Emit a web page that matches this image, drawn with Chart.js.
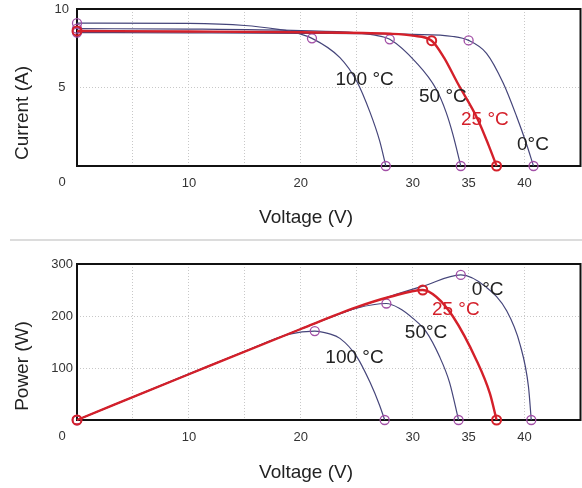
<!DOCTYPE html>
<html lang="en">
<head>
  <meta charset="UTF-8">
  <title>Module I-V / P-V curves vs temperature</title>
  <script src="https://cdn.jsdelivr.net/npm/chart.js"></script>
  <style>
    html, body {
      margin: 0;
      padding: 0;
      background: #fff;
      overflow: hidden;
      font-family: 'Liberation Sans', Arial, sans-serif;
    }
    .panel {
      position: absolute;
      left: 0;
      width: 587px; /* chart.js keeps ~6px on the right, so the frame ends near 580 */
    }
    #top { top: 0; height: 239px; }
    #bottom { top: 241px; height: 247px; }
    #sep {
      position: absolute;
      left: 10px;
      top: 239px;
      width: 572px;
      height: 2px;
      background: #dcdcdc;
    }
  </style>
</head>
<body>
  <div class="panel" id="top"><canvas id="chartIV"></canvas></div>
  <div id="sep"></div>
  <div class="panel" id="bottom"><canvas id="chartPV"></canvas></div>
  <script>
    // tick labels
    const xTickLabels = [10, 20, 30, 35, 40];
    const ivTickLabels = [5, 10];
    const pvTickLabels = [100, 200, 300];

    // current vs voltage, one pair of arrays per temperature
    const iv0V = [0, 10, 20, 30, 33.6, 35.0, 36.6, 38.1, 39.3, 40.15, 40.8];
    const iv0I = [8.5, 8.48, 8.45, 8.38, 8.25, 8.0, 7.18, 5.27, 3.14, 1.45, 0];
    const iv25V = [0, 10, 20, 28, 30, 31.7, 32.8, 34.0, 35.8, 36.8, 37.5];
    const iv25I = [8.6, 8.57, 8.52, 8.42, 8.3, 7.98, 6.9, 5.3, 3.0, 1.3, 0];
    const iv50V = [0, 10, 20, 25, 26.5, 27.95, 30.3, 32.1, 33.0, 33.6, 34.3];
    const iv50I = [8.75, 8.72, 8.62, 8.48, 8.35, 8.07, 6.6, 4.9, 3.4, 2.0, 0];
    const iv100V = [0, 10, 15, 18, 19, 21.0, 23.5, 25.0, 26.2, 27.05, 27.6];
    const iv100I = [9.1, 9.08, 8.95, 8.7, 8.58, 8.13, 6.9, 5.4, 3.4, 1.6, 0];

    // power vs voltage
    const pv0V = [0, 10, 20, 25, 28, 31, 34.3, 36.6, 38.4, 39.6, 40.35, 40.6];
    const pv0P = [0, 88, 175, 216, 238, 258, 279, 255, 210, 145, 64, 0];
    const pv25V = [0, 10, 20, 25, 28, 30.9, 32.1, 33.6, 35.7, 36.9, 37.5];
    const pv25P = [0, 88, 175, 217, 237, 250, 237, 199, 115, 51, 0];
    const pv50V = [0, 10, 20, 25, 27.65, 28.8, 30.0, 31.2, 32.4, 33.3, 34.1];
    const pv50P = [0, 88, 175, 215, 224, 215, 196, 170, 122, 72, 0];
    const pv100V = [0, 10, 15, 19, 21.25, 22.5, 23.5, 25.0, 26.2, 27.05, 27.5];
    const pv100P = [0, 89, 132, 165, 171, 166, 157, 122, 72, 28, 0];

    const DARK = '#45457a';
    const PURPLE = '#a24fa6';
    const RED = '#d4202a';
    const FONT = "'Liberation Sans', Arial, sans-serif";

    // builds line + marker datasets (start, max power point, end)
    function buildSets(curves, powerOf) {
      const sets = [];
      curves.forEach(c => {
        const pts = c.v.map((v, k) => ({ x: v, y: c.y[k] }));
        let best = 0;
        pts.forEach((p, k) => { if (powerOf(p) > powerOf(pts[best])) best = k; });
        sets.push({
          data: pts,
          showLine: true,
          borderColor: c.red ? RED : DARK,
          borderWidth: c.red ? 2.4 : 1.2,
          pointRadius: 0,
          cubicInterpolationMode: 'monotone',
          order: c.red ? 1 : 3,
          clip: false
        });
        sets.push({
          data: [pts[0], pts[best], pts[pts.length - 1]],
          showLine: false,
          pointRadius: 4.5,
          pointBorderWidth: c.red ? 2 : 1.3,
          pointBorderColor: c.red ? RED : PURPLE,
          pointBackgroundColor: 'rgba(0,0,0,0)',
          order: c.red ? 0 : 2,
          clip: false
        });
      });
      return sets;
    }

    function overlay(o) {
      return {
        id: 'overlay',
        beforeDatasetsDraw(chart) {
          const { ctx, chartArea: a } = chart;
          ctx.save();
          ctx.strokeStyle = '#111';
          ctx.lineWidth = 2;
          ctx.strokeRect(a.left, a.top, a.right - a.left, a.bottom - a.top);
          ctx.restore();
        },
        afterDraw(chart) {
          const { ctx, chartArea: a, scales } = chart;
          ctx.save();
          ctx.textAlign = 'center';
          ctx.textBaseline = 'middle';
          ctx.font = '13px ' + FONT;
          ctx.fillStyle = '#333';
          ctx.fillText('0', 62, a.bottom + 16);
          ctx.font = '19px ' + FONT;
          ctx.fillStyle = '#222';
          ctx.fillText(o.xTitle, 306, o.xTitleY);
          ctx.save();
          ctx.translate(23, o.yTitleY);
          ctx.rotate(-Math.PI / 2);
          ctx.fillText(o.yTitle, 0, 0);
          ctx.restore();
          o.labels.forEach(l => {
            ctx.fillStyle = l.red ? RED : '#222';
            ctx.fillText(l.text, scales.x.getPixelForValue(l.x), scales.y.getPixelForValue(l.y));
          });
          ctx.restore();
        }
      };
    }

    function makeChart(id, sets, yMax, yStep, yLabels, axisH, padTop, yPad, o) {
      const tickFont = { family: FONT, size: 13 };
      return new Chart(document.getElementById(id), {
        type: 'scatter',
        data: { datasets: sets },
        options: {
          responsive: true,
          maintainAspectRatio: false,
          animation: false,
          layout: { padding: { top: padTop, right: 2, left: 0, bottom: 0 } },
          plugins: { legend: { display: false }, tooltip: { enabled: false } },
          scales: {
            x: {
              type: 'linear', min: 0, max: 45,
              grid: { color: '#c8c8c8', drawTicks: false },
              border: { display: false, dash: [1, 2] },
              ticks: {
                stepSize: 5, autoSkip: false, maxRotation: 0, padding: 10,
                font: tickFont, color: '#333',
                callback: v => xTickLabels.includes(v) ? String(v) : ''
              },
              afterFit: s => { s.height = axisH; s.paddingLeft = 0; s.paddingRight = 0; }
            },
            y: {
              type: 'linear', min: 0, max: yMax,
              grid: { color: '#c8c8c8', drawTicks: false },
              border: { display: false, dash: [1, 2] },
              ticks: {
                stepSize: yStep, autoSkip: false, padding: yPad, crossAlign: 'center',
                font: tickFont, color: '#333',
                callback: v => yLabels.includes(v) ? String(v) : ''
              },
              afterFit: s => { s.width = 77; s.paddingTop = 0; s.paddingBottom = 0; }
            }
          }
        },
        plugins: [overlay(o)]
      });
    }

    makeChart('chartIV',
      buildSets([
        { v: iv0V, y: iv0I },
        { v: iv50V, y: iv50I },
        { v: iv100V, y: iv100I },
        { v: iv25V, y: iv25I, red: true }
      ], p => p.x * p.y),
      10, 5, ivTickLabels, 73, 9, 8,
      {
        xTitle: 'Voltage (V)', xTitleY: 218, yTitle: 'Current (A)', yTitleY: 113,
        labels: [
          { text: '100 °C', x: 25.7, y: 5.48 },
          { text: '50 °C', x: 32.7, y: 4.39 },
          { text: '25 °C', x: 36.45, y: 2.93, red: true },
          { text: '0°C', x: 40.75, y: 1.34 }
        ]
      });

    makeChart('chartPV',
      buildSets([
        { v: pv0V, y: pv0P },
        { v: pv50V, y: pv50P },
        { v: pv100V, y: pv100P },
        { v: pv25V, y: pv25P, red: true }
      ], p => p.y),
      300, 100, pvTickLabels, 68, 23, 4,
      {
        xTitle: 'Voltage (V)', xTitleY: 232, yTitle: 'Power (W)', yTitleY: 125,
        labels: [
          { text: '0°C', x: 36.7, y: 251 },
          { text: '25 °C', x: 33.85, y: 212.5, red: true },
          { text: '50°C', x: 31.2, y: 168 },
          { text: '100 °C', x: 24.8, y: 119 }
        ]
      });
  </script>
</body>
</html>
